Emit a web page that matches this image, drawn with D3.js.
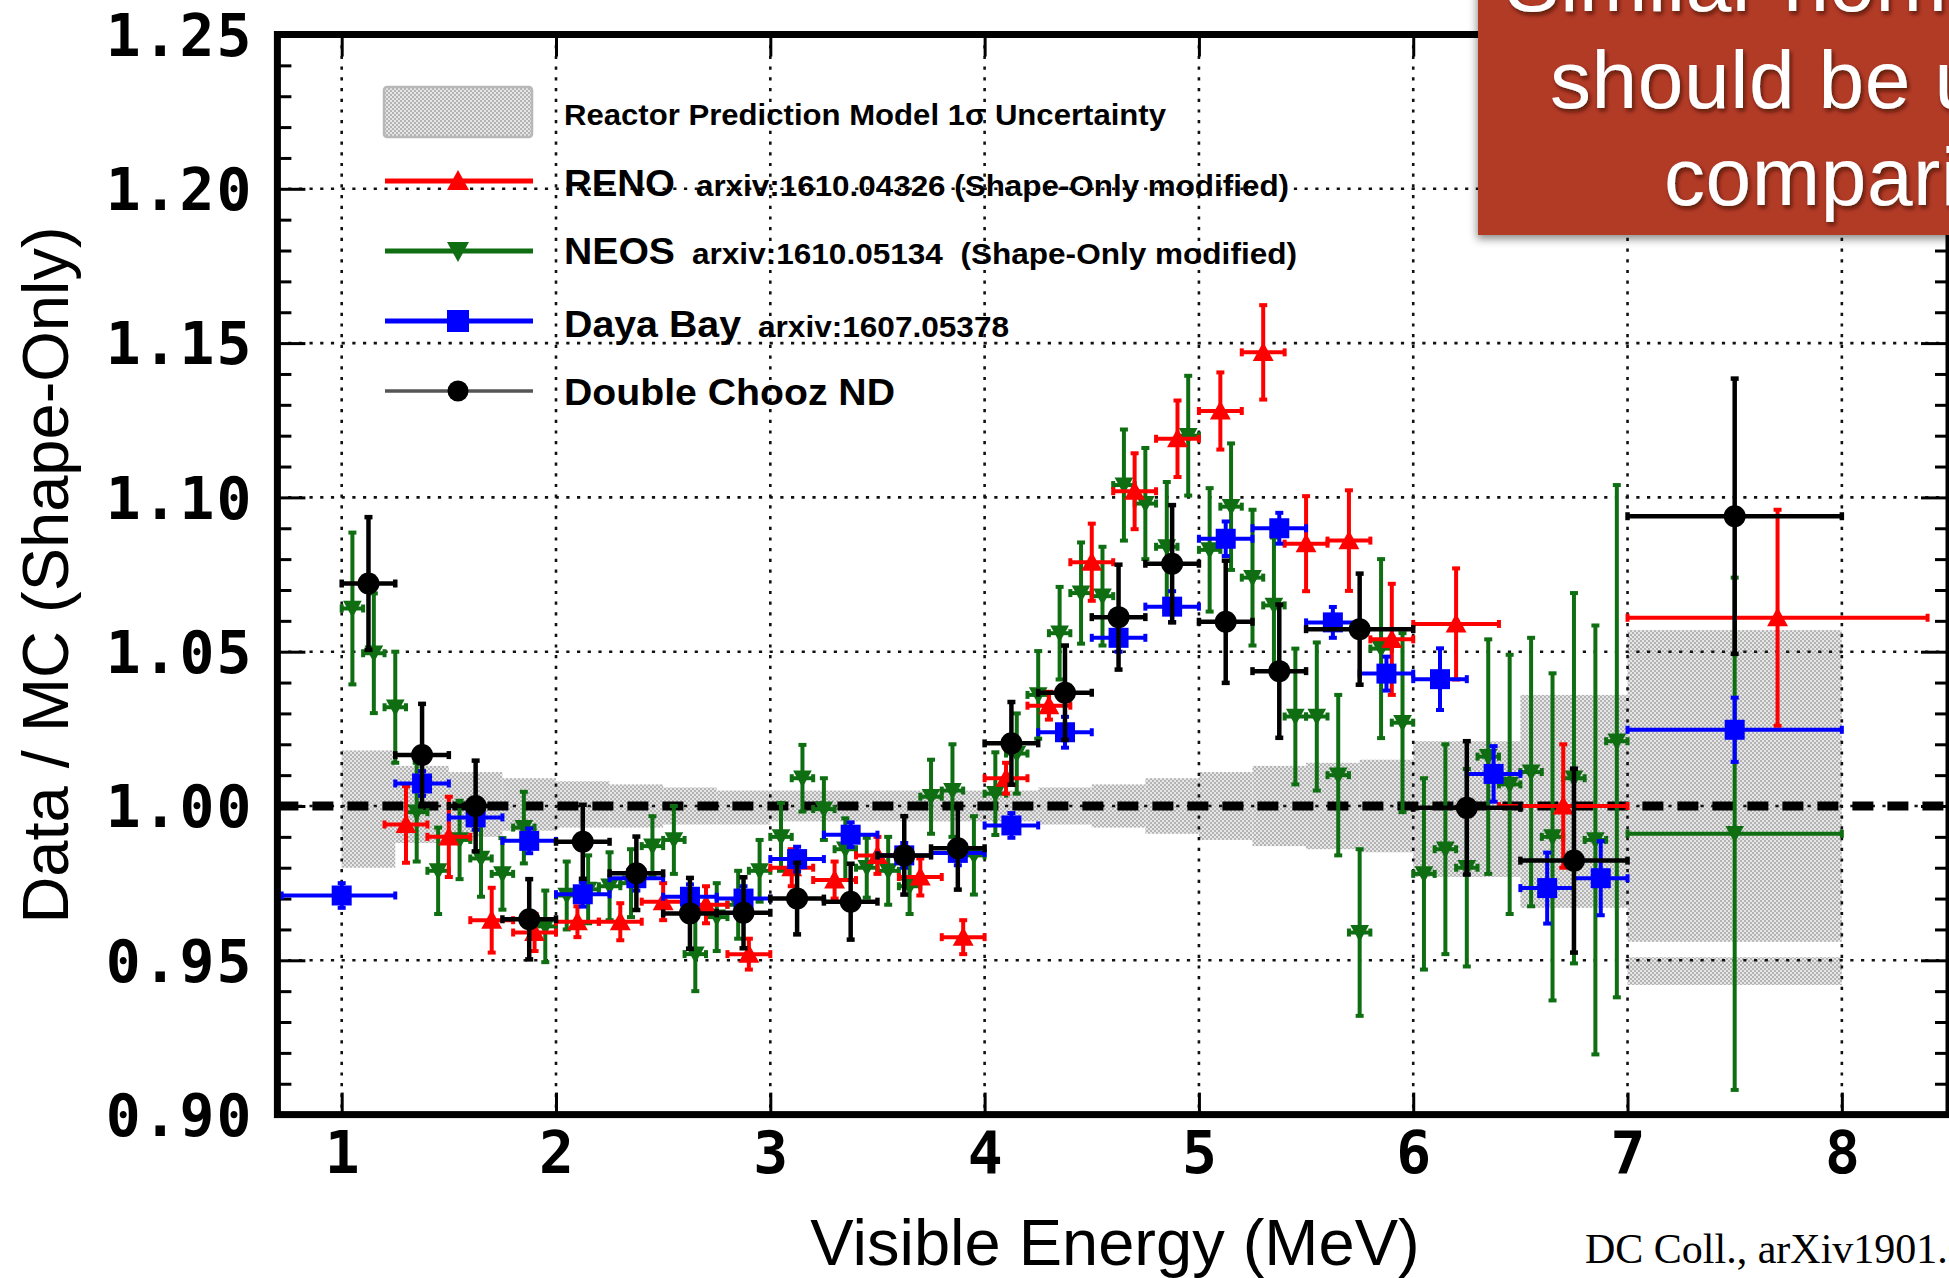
<!DOCTYPE html>
<html>
<head>
<meta charset="utf-8">
<script src="https://cdn.jsdelivr.net/npm/d3@7/dist/d3.min.js"></script>
<style>
html,body{margin:0;padding:0;background:#fff;}
svg{display:block;}
</style>
</head>
<body>
<svg id="chart" width="1949" height="1278"></svg>
<script>
// ================= DATA =================
const xTickValues = [1, 2, 3, 4, 5, 6, 7, 8];
const yTickValues = [0.90, 0.95, 1.00, 1.05, 1.10, 1.15, 1.20, 1.25];
const yMinorTickValues = [0.91,0.92,0.93,0.94,0.96,0.97,0.98,0.99,1.01,1.02,1.03,1.04,1.06,1.07,1.08,1.09,1.11,1.12,1.13,1.14,1.16,1.17,1.18,1.19,1.21,1.22,1.23,1.24];

// Reactor prediction model 1 sigma uncertainty band
const bandLo  = [1.00,1.25,1.50,1.75,2.00,2.25,2.50,2.75,3.00,3.25,3.50,3.75,4.00,4.25,4.50,4.75,5.00,5.25,5.50,5.75,6.00,6.50,7.00,7.00];
const bandHi  = [1.25,1.50,1.75,2.00,2.25,2.50,2.75,3.00,3.25,3.50,3.75,4.00,4.25,4.50,4.75,5.00,5.25,5.50,5.75,6.00,6.50,7.00,8.00,8.00];
const bandMin = [0.980,0.988,0.990,0.992,0.993,0.993,0.994,0.994,0.995,0.995,0.995,0.995,0.995,0.994,0.993,0.991,0.989,0.987,0.986,0.985,0.977,0.967,0.956,0.942];
const bandMax = [1.018,1.013,1.011,1.009,1.008,1.007,1.006,1.005,1.005,1.005,1.005,1.005,1.005,1.006,1.007,1.009,1.011,1.013,1.014,1.015,1.021,1.036,1.057,0.951];

// RENO
const renoX   = [1.3,1.5,1.7,1.9,2.1,2.3,2.5,2.7,2.9,3.1,3.3,3.5,3.7,3.9,4.1,4.3,4.5,4.7,4.9,5.1,5.3,5.5,5.7,5.9,6.2,6.7,7.7];
const renoXLo = [1.2,1.4,1.6,1.8,2.0,2.2,2.4,2.6,2.8,3.0,3.2,3.4,3.6,3.8,4.0,4.2,4.4,4.6,4.8,5.0,5.2,5.4,5.6,5.8,6.0,6.4,7.0];
const renoXHi = [1.4,1.6,1.8,2.0,2.2,2.4,2.6,2.8,3.0,3.2,3.4,3.6,3.8,4.0,4.2,4.4,4.6,4.8,5.0,5.2,5.4,5.6,5.8,6.0,6.4,7.0,8.4];
const renoY   = [0.994,0.990,0.963,0.959,0.9625,0.9625,0.969,0.968,0.952,0.980,0.976,0.984,0.977,0.9575,1.009,1.0325,1.079,1.102,1.119,1.128,1.147,1.085,1.086,1.054,1.059,1.000,1.061];
const renoErr = [0.0124,0.013,0.0105,0.006,0.005,0.006,0.006,0.006,0.005,0.006,0.006,0.006,0.006,0.0055,0.005,0.0045,0.0125,0.0123,0.0124,0.0125,0.0153,0.0154,0.0163,0.018,0.018,0.020,0.035];

// NEOS
const neosX = [1.05,1.15,1.25,1.35,1.45,1.55,1.65,1.75,1.85,1.95,2.05,2.15,2.25,2.35,2.45,2.55,2.65,2.75,2.85,2.95,3.05,3.15,3.25,3.35,3.45,3.55,3.65,3.75,3.85,3.95,4.05,4.15,4.25,4.35,4.45,4.55,4.65,4.75,4.85,4.95,5.05,5.15,5.25,5.35,5.45,5.55,5.65,5.75,5.85,5.95,6.05,6.15,6.25,6.35,6.45,6.55,6.65,6.75,6.85,6.95,7.5];
const neosXErr = [0.05,0.05,0.05,0.05,0.05,0.05,0.05,0.05,0.05,0.05,0.05,0.05,0.05,0.05,0.05,0.05,0.05,0.05,0.05,0.05,0.05,0.05,0.05,0.05,0.05,0.05,0.05,0.05,0.05,0.05,0.05,0.05,0.05,0.05,0.05,0.05,0.05,0.05,0.05,0.05,0.05,0.05,0.05,0.05,0.05,0.05,0.05,0.05,0.05,0.05,0.05,0.05,0.05,0.05,0.05,0.05,0.05,0.05,0.05,0.05,0.5];
const neosY = [1.064,1.0495,1.032,0.998,0.979,0.989,0.983,0.978,0.993,0.961,0.971,0.973,0.974,0.975,0.987,0.989,0.952,0.964,0.968,0.979,0.990,1.009,0.999,0.986,0.980,0.979,0.974,1.003,1.005,0.984,1.004,1.017,1.036,1.056,1.069,1.068,1.104,1.098,1.084,1.120,1.083,1.097,1.074,1.065,1.029,1.029,1.010,0.959,1.051,1.027,0.978,0.986,0.980,1.016,1.007,1.011,0.990,1.009,0.989,1.021,0.991];
const neosErr = [0.0246,0.0194,0.018,0.016,0.014,0.0127,0.0124,0.0116,0.0116,0.0116,0.011,0.011,0.011,0.011,0.0097,0.011,0.012,0.011,0.011,0.010,0.011,0.0108,0.010,0.010,0.0097,0.011,0.009,0.012,0.015,0.0127,0.0134,0.013,0.0142,0.015,0.0164,0.016,0.018,0.018,0.021,0.0194,0.020,0.0205,0.022,0.022,0.022,0.024,0.026,0.027,0.029,0.029,0.031,0.034,0.032,0.038,0.042,0.0435,0.053,0.060,0.0695,0.083,0.083];

// Daya Bay
const dbX   = [1.0,1.375,1.625,1.875,2.125,2.375,2.625,2.875,3.125,3.375,3.625,3.875,4.125,4.375,4.625,4.875,5.125,5.375,5.625,5.875,6.125,6.375,6.625,6.875,7.5];
const dbXLo = [0.72,1.25,1.5,1.75,2.0,2.25,2.5,2.75,3.0,3.25,3.5,3.75,4.0,4.25,4.5,4.75,5.0,5.25,5.5,5.75,6.0,6.25,6.5,6.75,7.0];
const dbXHi = [1.25,1.5,1.75,2.0,2.25,2.5,2.75,3.0,3.25,3.5,3.75,4.0,4.25,4.5,4.75,5.0,5.25,5.5,5.75,6.0,6.25,6.5,6.75,7.0,8.0];
const dbY   = [0.971,1.0073,0.9963,0.9887,0.9714,0.9766,0.9706,0.970,0.9828,0.9907,0.984,0.9848,0.9937,1.0239,1.0545,1.0646,1.0866,1.090,1.0595,1.0429,1.0411,1.0104,0.9734,0.9766,1.0247];
const dbErr = [0.004,0.004,0.004,0.004,0.004,0.004,0.004,0.004,0.004,0.004,0.004,0.004,0.004,0.005,0.0045,0.005,0.0056,0.005,0.005,0.0055,0.010,0.009,0.0115,0.012,0.0104];

// Double Chooz ND
const dcX   = [1.125,1.375,1.625,1.875,2.125,2.375,2.625,2.875,3.125,3.375,3.625,3.875,4.125,4.375,4.625,4.875,5.125,5.375,5.75,6.25,6.75,7.5];
const dcXLo = [1.0,1.25,1.5,1.75,2.0,2.25,2.5,2.75,3.0,3.25,3.5,3.75,4.0,4.25,4.5,4.75,5.0,5.25,5.5,6.0,6.5,7.0];
const dcXHi = [1.25,1.5,1.75,2.0,2.25,2.5,2.75,3.0,3.25,3.5,3.75,4.0,4.25,4.5,4.75,5.0,5.25,5.5,6.0,6.5,7.0,8.0];
const dcY   = [1.0721,1.0165,1.000,0.9633,0.9884,0.9782,0.9652,0.9654,0.970,0.969,0.984,0.9863,1.0203,1.0367,1.0612,1.0785,1.0597,1.0437,1.0573,0.9994,0.9823,1.0939];
const dcErr = [0.0215,0.0166,0.0147,0.013,0.012,0.0119,0.0115,0.0115,0.0116,0.0123,0.0127,0.0134,0.0134,0.0153,0.017,0.019,0.0198,0.0216,0.018,0.0216,0.0298,0.0446];

// Texts
const yTitle = "Data / MC (Shape-Only)";
const xTitle = "Visible Energy (MeV)";
const footnote = "DC Coll., arXiv1901.09445";
const noteLines = ["Similar normalization", "should be used for", "comparison"];

// ================= CHART =================
const svg = d3.select("#chart");
const x = d3.scaleLinear().domain([0.7, 8.5]).range([277.4, 1949]);
const y = d3.scaleLinear().domain([0.90, 1.25]).range([1114.6, 34.5]);
const plotL = x(0.7), plotR = x(8.5), plotT = y(1.25), plotB = y(0.90);

const defs = svg.append("defs");
const pat = defs.append("pattern").attr("id", "hatch").attr("width", 4).attr("height", 4)
  .attr("patternUnits", "userSpaceOnUse");
pat.append("rect").attr("width", 4).attr("height", 4).attr("fill", "#e6e6e6");
pat.append("rect").attr("width", 2).attr("height", 2).attr("fill", "#b4b4b4");
pat.append("rect").attr("x", 2).attr("y", 2).attr("width", 2).attr("height", 2).attr("fill", "#b4b4b4");

const bf = defs.append("filter").attr("id", "bshadow").attr("x", "-10%").attr("y", "-10%").attr("width", "120%").attr("height", "130%");
bf.append("feDropShadow").attr("dx", -1).attr("dy", 4).attr("stdDeviation", 4).attr("flood-color", "#000").attr("flood-opacity", 0.45);
const tf = defs.append("filter").attr("id", "tshadow").attr("x", "-10%").attr("y", "-40%").attr("width", "130%").attr("height", "180%");
tf.append("feDropShadow").attr("dx", 2).attr("dy", 3).attr("stdDeviation", 2).attr("flood-color", "#3a0a00").attr("flood-opacity", 0.75);

// band
const bandData = bandLo.map((lo, i) => ({lo, hi: bandHi[i], min: bandMin[i], max: bandMax[i]}));
svg.append("g").selectAll("rect").data(bandData).join("rect")
  .attr("x", d => x(d.lo)).attr("width", d => x(d.hi) - x(d.lo))
  .attr("y", d => y(d.max)).attr("height", d => y(d.min) - y(d.max))
  .attr("fill", "url(#hatch)");

// grid
const grid = svg.append("g").attr("stroke", "#111").attr("stroke-width", 2.6).attr("stroke-dasharray", "3.2,7.5");
grid.selectAll(".vg").data(xTickValues).join("line")
  .attr("x1", d => x(d)).attr("x2", d => x(d)).attr("y1", plotT).attr("y2", plotB);
grid.selectAll(".hg").data(yTickValues.filter(v => v > 0.91 && v < 1.24)).join("line")
  .attr("x1", plotL).attr("x2", plotR).attr("y1", d => y(d)).attr("y2", d => y(d));

// dashed unity line
svg.append("line").attr("x1", plotL).attr("x2", plotR).attr("y1", y(1)).attr("y2", y(1))
  .attr("stroke", "#000").attr("stroke-width", 9).attr("stroke-dasharray", "21,14");

// axes ticks
function styleTicks(g) { g.select(".domain").remove(); g.selectAll(".tick line").attr("stroke", "#000").attr("stroke-width", 3); }
svg.append("g").attr("transform", `translate(${plotL},0)`).call(d3.axisRight(y).tickValues(yTickValues).tickSize(28).tickFormat("")).call(styleTicks);
svg.append("g").attr("transform", `translate(${plotL},0)`).call(d3.axisRight(y).tickValues(yMinorTickValues).tickSize(14).tickFormat("")).call(styleTicks);
svg.append("g").attr("transform", `translate(${plotR},0)`).call(d3.axisLeft(y).tickValues(yTickValues).tickSize(28).tickFormat("")).call(styleTicks);
svg.append("g").attr("transform", `translate(${plotR},0)`).call(d3.axisLeft(y).tickValues(yMinorTickValues).tickSize(14).tickFormat("")).call(styleTicks);
svg.append("g").attr("transform", `translate(0,${plotB})`).call(d3.axisTop(x).tickValues(xTickValues).tickSize(22).tickFormat("")).call(styleTicks);
svg.append("g").attr("transform", `translate(0,${plotT})`).call(d3.axisBottom(x).tickValues(xTickValues).tickSize(22).tickFormat("")).call(styleTicks);

// tick labels
const yLab = svg.append("g").attr("transform", `translate(${plotL},0)`)
  .call(d3.axisLeft(y).tickValues(yTickValues).tickFormat(d3.format(".2f")).tickSize(0).tickPadding(24));
yLab.select(".domain").remove();
yLab.attr("font-family", "'DejaVu Sans Mono', monospace").attr("font-size", 58).attr("font-weight", "bold");
yLab.selectAll("text").attr("fill", "#000").attr("dy", "0.36em").attr("letter-spacing", 2);

const xLab = svg.append("g").attr("transform", `translate(0,${plotB})`)
  .call(d3.axisBottom(x).tickValues(xTickValues).tickFormat(d3.format("d")).tickSize(0).tickPadding(17));
xLab.select(".domain").remove();
xLab.attr("font-family", "'DejaVu Sans Mono', monospace").attr("font-size", 58).attr("font-weight", "bold");
xLab.selectAll("text").attr("fill", "#000");

// series
function markerPath(type, s) {
  if (type === "up") return `M0,${-s*0.55}L${s*0.55},${s*0.45}L${-s*0.55},${s*0.45}Z`;
  if (type === "down") return `M0,${s*0.55}L${s*0.55},${-s*0.45}L${-s*0.55},${-s*0.45}Z`;
  if (type === "square") return `M${-s/2},${-s/2}h${s}v${s}h${-s}Z`;
  return d3.symbol(d3.symbolCircle, Math.PI * (s/2) * (s/2))();
}
function drawSeries(pts, color, lw, type, size) {
  const g = svg.append("g").attr("stroke", color).attr("stroke-width", lw).attr("fill", color);
  const cap = 8;
  g.selectAll(".xb").data(pts).join("line")
    .attr("x1", d => x(d.lo)).attr("x2", d => x(d.hi)).attr("y1", d => y(d.v)).attr("y2", d => y(d.v));
  g.selectAll(".yb").data(pts).join("line")
    .attr("x1", d => x(d.x)).attr("x2", d => x(d.x)).attr("y1", d => y(d.v - d.e)).attr("y2", d => y(d.v + d.e));
  g.selectAll(".ct").data(pts).join("line")
    .attr("x1", d => x(d.x) - cap/2).attr("x2", d => x(d.x) + cap/2).attr("y1", d => y(d.v + d.e)).attr("y2", d => y(d.v + d.e));
  g.selectAll(".cb").data(pts).join("line")
    .attr("x1", d => x(d.x) - cap/2).attr("x2", d => x(d.x) + cap/2).attr("y1", d => y(d.v - d.e)).attr("y2", d => y(d.v - d.e));
  g.selectAll(".cl").data(pts).join("line")
    .attr("x1", d => x(d.lo)).attr("x2", d => x(d.lo)).attr("y1", d => y(d.v) - cap/2).attr("y2", d => y(d.v) + cap/2);
  g.selectAll(".cr").data(pts).join("line")
    .attr("x1", d => x(d.hi)).attr("x2", d => x(d.hi)).attr("y1", d => y(d.v) - cap/2).attr("y2", d => y(d.v) + cap/2);
  g.selectAll(".mk").data(pts).join("path")
    .attr("d", markerPath(type, size)).attr("stroke", "none")
    .attr("transform", d => `translate(${x(d.x)},${y(d.v)})`);
}
const neosPts = neosX.map((v, i) => ({x: v, lo: v - neosXErr[i], hi: v + neosXErr[i], v: neosY[i], e: neosErr[i]}));
const renoPts = renoX.map((v, i) => ({x: v, lo: renoXLo[i], hi: renoXHi[i], v: renoY[i], e: renoErr[i]}));
const dbPts = dbX.map((v, i) => ({x: v, lo: dbXLo[i], hi: dbXHi[i], v: dbY[i], e: dbErr[i]}));
const dcPts = dcX.map((v, i) => ({x: v, lo: dcXLo[i], hi: dcXHi[i], v: dcY[i], e: dcErr[i]}));
const cGreen = "#0f6e12", cRed = "#ff0000", cBlue = "#0000ff", cBlack = "#000000";
drawSeries(neosPts, cGreen, 4, "down", 17);
drawSeries(renoPts, cRed, 4, "up", 19);
drawSeries(dbPts, cBlue, 4, "square", 20);
drawSeries(dcPts, cBlack, 4.5, "circle", 22);

// frame
svg.append("rect").attr("x", plotL).attr("y", plotT).attr("width", plotR - plotL).attr("height", plotB - plotT)
  .attr("fill", "none").attr("stroke", "#000").attr("stroke-width", 7);

// legend
const leg = svg.append("g");
leg.append("rect").attr("x", 384).attr("y", 87).attr("width", 148).attr("height", 50).attr("rx", 3)
  .attr("fill", "url(#hatch)").attr("stroke", "#b8b8b8").attr("stroke-width", 2.5);
leg.append("text").attr("x", 564).attr("y", 125).attr("font-family", "'Liberation Sans', Arial, sans-serif")
  .attr("font-weight", "bold").attr("font-size", 29).attr("textLength", 602).attr("lengthAdjust", "spacingAndGlyphs")
  .text("Reactor Prediction Model 1σ Uncertainty");
const legendItems = [
  {name: "RENO", nameW: 111, sub: "arxiv:1610.04326 (Shape-Only modified)", subX: 696, subW: 593, color: cRed, type: "up", size: 20, ly: 181, base: 196, lw: 5},
  {name: "NEOS", nameW: 111, sub: "arxiv:1610.05134  (Shape-Only modified)", subX: 692, subW: 605, color: cGreen, type: "down", size: 20, ly: 251, base: 264, lw: 5},
  {name: "Daya Bay", nameW: 177, sub: "arxiv:1607.05378", subX: 758, subW: 251, color: cBlue, type: "square", size: 22, ly: 321, base: 337, lw: 5},
  {name: "Double Chooz ND", nameW: 331, sub: "", subX: 0, subW: 0, color: "#555", mcolor: "#000", type: "circle", size: 21, ly: 391, base: 405, lw: 3.5}
];
legendItems.forEach(it => {
  leg.append("line").attr("x1", 385).attr("x2", 533).attr("y1", it.ly).attr("y2", it.ly)
    .attr("stroke", it.color).attr("stroke-width", it.lw);
  leg.append("path").attr("d", markerPath(it.type, it.size)).attr("fill", it.mcolor || it.color)
    .attr("transform", `translate(458,${it.ly})`);
  leg.append("text").attr("x", 564).attr("y", it.base).attr("font-family", "'Liberation Sans', Arial, sans-serif")
    .attr("font-weight", "bold").attr("font-size", 36).attr("textLength", it.nameW).attr("lengthAdjust", "spacingAndGlyphs")
    .text(it.name);
  if (it.sub) {
    leg.append("text").attr("x", it.subX).attr("y", it.base).attr("font-family", "'Liberation Sans', Arial, sans-serif")
      .attr("font-weight", "bold").attr("font-size", 29).attr("textLength", it.subW).attr("lengthAdjust", "spacingAndGlyphs")
      .attr("xml:space", "preserve").style("white-space", "pre")
      .text(it.sub);
  }
});

// axis titles
svg.append("text").attr("transform", "translate(68,575) rotate(-90)").attr("text-anchor", "middle")
  .attr("font-family", "'Liberation Sans', Arial, sans-serif").attr("font-size", 65).text(yTitle);
svg.append("text").attr("x", 1115).attr("y", 1265).attr("text-anchor", "middle")
  .attr("font-family", "'Liberation Sans', Arial, sans-serif").attr("font-size", 65).text(xTitle);
svg.append("text").attr("x", 1585).attr("y", 1263)
  .attr("font-family", "'Liberation Serif', 'Times New Roman', serif").attr("font-size", 42).text(footnote);

// callout box
svg.append("rect").attr("x", 1478).attr("y", -30).attr("width", 520).attr("height", 265)
  .attr("fill", "#b23a27").attr("filter", "url(#bshadow)");
const noteX = [1505, 1550, 1664];
const noteY = [11, 108, 205];
svg.append("g").attr("filter", "url(#tshadow)").selectAll("text").data(noteLines).join("text")
  .attr("x", (d, i) => noteX[i]).attr("y", (d, i) => noteY[i])
  .attr("font-family", "'Liberation Sans', Arial, sans-serif").attr("font-size", 82).attr("letter-spacing", 0.6).attr("fill", "#fff")
  .text(d => d);
</script>
</body>
</html>
